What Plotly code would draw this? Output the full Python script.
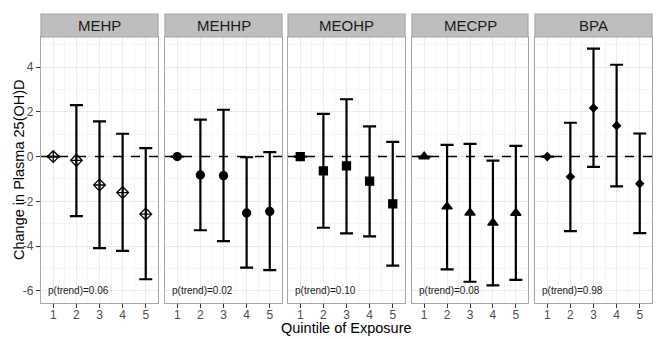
import plotly.graph_objects as go
from plotly.subplots import make_subplots

panels = ["MEHP", "MEHHP", "MEOHP", "MECPP", "BPA"]
quintiles = [1, 2, 3, 4, 5]
est = {
    "MEHP":  [0, -0.17, -1.27, -1.61, -2.57],
    "MEHHP": [0, -0.82, -0.85, -2.52, -2.45],
    "MEOHP": [0, -0.64, -0.42, -1.10, -2.11],
    "MECPP": [0, -2.24, -2.51, -2.96, -2.52],
    "BPA":   [0, -0.90, 2.17, 1.38, -1.21],
}
upper = {
    "MEHP":  [0, 2.30, 1.57, 1.02, 0.38],
    "MEHHP": [0, 1.65, 2.09, -0.03, 0.20],
    "MEOHP": [0, 1.91, 2.56, 1.35, 0.66],
    "MECPP": [0, 0.52, 0.57, -0.18, 0.48],
    "BPA":   [0, 1.51, 4.82, 4.10, 1.03],
}
lower = {
    "MEHP":  [0, -2.66, -4.09, -4.21, -5.48],
    "MEHHP": [0, -3.29, -3.78, -4.96, -5.07],
    "MEOHP": [0, -3.18, -3.43, -3.56, -4.87],
    "MECPP": [0, -5.04, -5.59, -5.75, -5.51],
    "BPA":   [0, -3.33, -0.46, -1.33, -3.42],
}
ptrend = ["p(trend)=0.06", "p(trend)=0.02", "p(trend)=0.10", "p(trend)=0.08", "p(trend)=0.98"]
symbols = ["diamond-cross-open", "circle", "square", "triangle-up", "diamond"]
msizes = [9, 8, 8, 9, 6]
yticks = [-6, -4, -2, 0, 2, 4]
yticktext = ["-6", "-4", "-2", "0", "2", "4"]

W, H = 665, 339
L, R, T, B = 41, 13, 37, 36
pw = W - L - R
ph = H - T - B
px_dom = [(41, 158), (165, 282), (288, 405), (412, 528), (535, 652)]

fig = make_subplots(rows=1, cols=5, shared_yaxes=True)

for i, p in enumerate(panels):
    e = est[p]
    up = [u - v for u, v in zip(upper[p], e)]
    lo = [v - l for l, v in zip(lower[p], e)]
    fig.add_trace(go.Scatter(
        x=quintiles, y=e, mode="markers",
        marker=dict(symbol=symbols[i], size=msizes[i], color="black",
                    line=dict(color="black", width=1.3)),
        error_y=dict(type="data", symmetric=False, array=up, arrayminus=lo,
                     color="black", thickness=2.2, width=6.5),
        showlegend=False,
    ), row=1, col=i + 1)

    d0 = (px_dom[i][0] - L) / pw
    d1 = (px_dom[i][1] - L) / pw
    ax = "xaxis" if i == 0 else f"xaxis{i+1}"
    yax = "yaxis" if i == 0 else f"yaxis{i+1}"
    fig.layout[ax].update(
        domain=[d0, d1], range=[0.47, 5.53],
        tickvals=quintiles, ticktext=[str(q) for q in quintiles],
        ticks="outside", ticklen=4, tickcolor="#333333", tickwidth=1,
        ticklabelstandoff=-4,
        tickfont=dict(family="Liberation Sans, Arial", size=12, color="#4d4d4d"),
        showgrid=True, gridcolor="#ebebeb", gridwidth=1,
        minor=dict(tickvals=[1.5, 2.5, 3.5, 4.5], showgrid=True, gridcolor="#f5f5f5", gridwidth=0.6),
        zeroline=False, showline=True, mirror=True, linecolor="#a6a6a6", linewidth=1.2,
    )
    fig.layout[yax].update(
        range=[-6.54, 5.34],
        tickvals=yticks, ticktext=yticktext,
        ticks="outside" if i == 0 else "", ticklen=4, tickcolor="#333333",
        showticklabels=(i == 0),
        tickfont=dict(family="Liberation Sans, Arial", size=12, color="#4d4d4d"),
        showgrid=True, gridcolor="#ebebeb", gridwidth=1,
        minor=dict(tickvals=[-5, -3, -1, 1, 3, 5], showgrid=True, gridcolor="#f5f5f5", gridwidth=0.6),
        zeroline=False, showline=True, mirror=True, linecolor="#a6a6a6", linewidth=1.2,
    )
    xref = "x" if i == 0 else f"x{i+1}"
    yref = "y" if i == 0 else f"y{i+1}"
    # dashed zero line
    fig.add_shape(type="line", xref=f"{xref} domain", yref=yref, x0=0, x1=1, y0=0, y1=0,
                  line=dict(color="black", width=1.4, dash="dash"), layer="above")
    # strip
    fig.add_shape(type="rect", xref="paper", yref="paper", x0=d0, x1=d1, y0=1.0, y1=1 + 23 / ph,
                  fillcolor="#bebebe", line=dict(color="#a6a6a6", width=1.2))
    fig.add_annotation(xref="paper", yref="paper", x=(d0 + d1) / 2, y=1 + 11.5 / ph,
                       text=p, showarrow=False, xanchor="center", yanchor="middle",
                       font=dict(family="Liberation Sans, Arial", size=15, color="#1a1a1a"))
    fig.add_annotation(xref=xref, yref=yref, x=0.7, y=-6.0, text=ptrend[i], showarrow=False,
                       xanchor="left", yanchor="middle",
                       font=dict(family="Liberation Sans, Arial", size=10, color="#1a1a1a"))

fig.add_annotation(xref="paper", yref="paper", x=0.5, y=-(328 - T - ph) / ph, yanchor="middle",
                   text="Quintile of Exposure", showarrow=False,
                   font=dict(family="Liberation Sans, Arial", size=14.5, color="black"))
fig.add_annotation(xref="paper", yref="paper", x=-(L - 19) / pw, y=0.5, xanchor="center",
                   text="Change in Plasma 25(OH)D", showarrow=False, textangle=-90,
                   font=dict(family="Liberation Sans, Arial", size=14.5, color="black"))

fig.update_layout(
    width=W, height=H, margin=dict(l=L, r=R, t=T, b=B),
    paper_bgcolor="white", plot_bgcolor="white",
)
fig.write_html("out.html")
